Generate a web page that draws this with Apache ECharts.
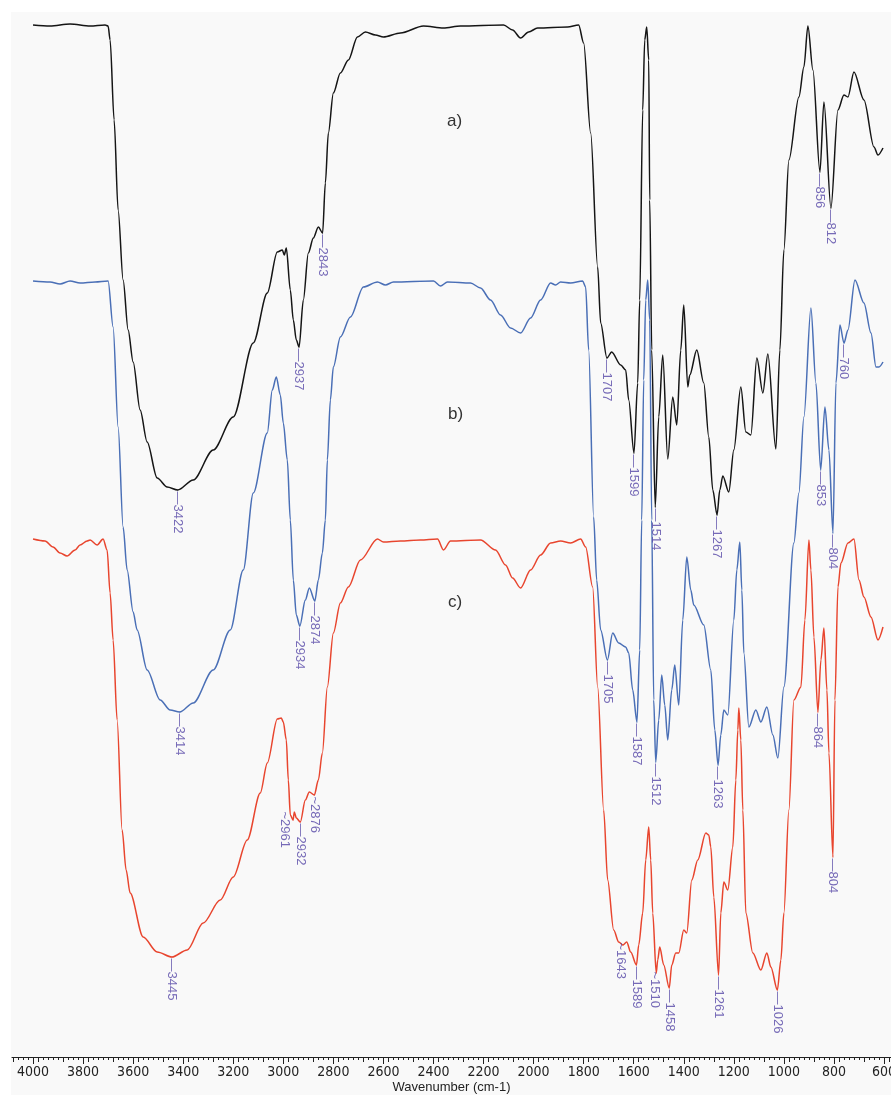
<!DOCTYPE html>
<html>
<head>
<meta charset="utf-8">
<script src="https://cdn.jsdelivr.net/npm/echarts@6/dist/echarts.min.js"></script>
<style>
html, body { margin: 0; padding: 0; background: #fff; }
#chart { width: 891px; height: 1095px; }
</style>
</head>
<body>
<div id="chart"></div>
<script>
// x tick labels (cm-1)
var tickLabels = [4000, 3800, 3600, 3400, 3200, 3000, 2800, 2600, 2400, 2200, 2000, 1800, 1600, 1400, 1200, 1000, 800, 600];

// spectra, [wavenumber, transmittance (offset, a.u.)]
var spectrumA = [
    [4000,103.2],[3932,103.1],[3852,103.3],[3772,103.1],[3712,103.2],[3700,103.1],[3692,101.7],[3676,93.7],
    [3660,84.7],[3640,77.7],[3620,72.7],[3600,69.5],[3572,64.7],[3544,61.5],[3504,57.9],[3464,57.0],
    [3422,56.7],[3360,57.7],[3280,60.7],[3200,64.0],[3120,71.4],[3064,76.4],[3024,80.5],[3004,80.7],
    [2996,80.2],[2988,80.9],[2972,76.7],[2960,73.7],[2948,71.7],[2937,71.0],[2920,75.7],[2900,80.4],
    [2880,81.9],[2860,83.0],[2843,82.4],[2832,87.4],[2820,92.4],[2800,96.4],[2772,98.4],[2740,99.7],
    [2704,102.0],[2672,102.5],[2632,102.2],[2600,102.0],[2532,102.4],[2440,103.1],[2360,102.9],[2292,103.1],
    [2120,103.2],[2084,102.7],[2052,101.9],[2020,102.5],[1984,102.9],[1864,103.0],[1820,103.2],[1800,101.4],
    [1772,92.4],[1744,79.0],[1732,73.4],[1707,69.9],[1688,70.5],[1652,69.2],[1632,68.7],[1620,65.7],
    [1599,60.4],[1584,67.4],[1576,75.7],[1564,94.7],[1556,101.7],[1548,103.0],[1540,99.7],[1536,85.7],
    [1528,70.7],[1514,55.0],[1500,64.0],[1484,70.2],[1464,59.8],[1444,66.0],[1428,63.2],[1412,70.7],
    [1400,75.2],[1384,67.0],[1376,68.2],[1348,70.7],[1320,67.4],[1300,62.0],[1284,56.7],[1267,54.2],
    [1256,56.7],[1244,58.1],[1220,56.5],[1200,60.7],[1172,67.0],[1152,62.5],[1132,62.2],[1108,69.9],
    [1084,66.4],[1064,70.3],[1032,60.8],[1016,70.7],[1000,80.7],[980,89.7],[940,96.0],[920,99.0],
    [904,103.1],[884,98.7],[856,88.5],[840,95.5],[812,84.9],[784,94.7],[760,96.2],[744,96.0],
    [720,98.5],[680,95.7],[640,91.0],[624,90.2],[604,90.9]
];
var spectrumB = [
    [4000,77.6],[3932,77.5],[3892,77.3],[3852,77.6],[3812,77.4],[3752,77.5],[3700,77.6],[3680,73.0],
    [3660,63.0],[3640,53.0],[3624,48.7],[3600,44.5],[3584,42.7],[3544,38.7],[3492,35.7],[3452,34.7],
    [3414,34.5],[3360,35.4],[3280,38.7],[3212,42.7],[3160,48.7],[3120,56.4],[3064,62.4],[3044,66.7],
    [3028,68.0],[3012,66.2],[3000,63.4],[2984,59.7],[2972,53.7],[2960,47.7],[2948,44.2],[2934,43.1],
    [2912,45.7],[2896,46.9],[2874,45.6],[2860,47.7],[2844,50.4],[2832,53.7],[2824,59.7],[2812,65.7],
    [2800,69.0],[2772,72.0],[2732,74.0],[2680,77.0],[2624,77.5],[2592,77.2],[2560,77.5],[2400,77.6],
    [2372,77.1],[2344,77.5],[2252,77.4],[2212,76.9],[2172,75.7],[2132,74.2],[2092,72.9],[2052,72.4],
    [2012,73.9],[1972,75.7],[1932,77.4],[1912,77.2],[1892,77.5],[1852,77.4],[1804,77.6],[1792,77.0],
    [1780,70.7],[1760,54.0],[1748,47.7],[1732,42.7],[1705,39.7],[1684,42.4],[1660,41.4],[1632,41.0],
    [1620,40.4],[1604,36.7],[1587,33.5],[1576,40.7],[1568,53.7],[1560,67.7],[1552,75.7],[1544,77.7],
    [1536,73.7],[1528,53.7],[1520,35.7],[1512,29.5],[1500,33.7],[1488,38.2],[1476,35.2],[1464,31.7],
    [1448,36.7],[1436,39.2],[1420,35.2],[1404,43.7],[1388,50.0],[1372,46.7],[1360,45.2],[1320,43.2],
    [1292,38.7],[1276,32.7],[1263,29.2],[1252,32.2],[1240,34.7],[1224,34.2],[1200,43.7],[1188,48.7],
    [1176,51.5],[1168,46.7],[1160,40.4],[1140,33.0],[1112,34.7],[1092,33.5],[1068,35.0],[1044,32.2],
    [1024,29.9],[1000,37.0],[960,51.4],[940,56.4],[920,64.0],[892,74.9],[872,67.4],[853,58.7],
    [836,65.0],[820,60.7],[804,52.4],[792,67.4],[776,73.2],[760,71.4],[744,72.7],[716,77.7],
    [680,75.4],[652,72.4],[632,69.0],[620,69.0],[604,69.5]
];
var spectrumC = [
    [4000,51.8],[3952,51.6],[3920,51.0],[3892,50.4],[3864,50.1],[3832,50.7],[3812,51.2],[3784,51.6],
    [3772,51.7],[3744,51.2],[3720,51.8],[3704,50.7],[3692,46.4],[3680,41.7],[3664,33.7],[3644,22.7],
    [3628,18.7],[3612,16.4],[3560,12.0],[3504,10.5],[3445,10.0],[3384,10.7],[3320,13.4],[3252,15.7],
    [3200,18.0],[3144,21.7],[3092,26.4],[3064,29.4],[3024,33.8],[3008,33.9],[3000,33.5],[2988,31.7],
    [2980,27.7],[2972,24.2],[2961,23.7],[2956,24.5],[2948,23.9],[2932,23.5],[2912,25.7],[2896,26.5],
    [2876,26.2],[2860,27.7],[2844,30.4],[2824,37.0],[2800,42.4],[2772,45.4],[2740,47.0],[2692,49.7],
    [2624,51.8],[2600,51.5],[2532,51.6],[2452,51.7],[2384,51.8],[2360,50.7],[2332,51.6],[2212,51.7],
    [2152,50.7],[2112,49.2],[2084,47.9],[2052,46.9],[2012,48.7],[1972,50.2],[1932,51.4],[1892,51.6],
    [1852,51.4],[1812,51.8],[1792,51.0],[1764,47.0],[1744,37.0],[1720,24.7],[1704,17.7],[1680,12.7],
    [1660,11.5],[1643,11.2],[1628,11.5],[1612,10.5],[1589,9.2],[1580,11.2],[1564,14.4],[1552,19.7],
    [1540,23.0],[1532,19.7],[1524,14.4],[1510,8.4],[1504,9.7],[1496,11.0],[1480,9.2],[1458,6.9],
    [1448,9.2],[1432,10.4],[1420,10.4],[1400,12.7],[1388,12.4],[1368,17.7],[1344,19.7],[1312,22.4],
    [1300,22.2],[1292,21.0],[1280,16.0],[1261,8.2],[1252,14.4],[1240,17.5],[1224,16.7],[1204,21.0],
    [1192,27.7],[1184,32.7],[1180,34.9],[1172,31.7],[1164,24.7],[1152,14.4],[1124,10.4],[1092,8.7],
    [1068,10.4],[1052,9.0],[1026,6.7],[1012,9.7],[1000,14.4],[980,24.7],[960,35.7],[932,37.0],
    [916,43.7],[900,51.7],[892,48.7],[880,42.0],[864,34.5],[852,39.7],[840,42.9],[828,36.7],
    [820,30.4],[804,20.0],[796,35.7],[784,47.0],[772,49.4],[744,51.4],[720,51.8],[700,47.7],
    [680,46.0],[652,44.0],[624,41.7],[604,43.0]
];

// annotated peaks
var peaksA = [3422, 2937, 2843, 1707, 1599, 1514, 1267, 856, 812];
var peaksB = [3414, 2934, 2874, 1705, 1587, 1512, 1263, 853, 804, 760];
var peaksC = [3445, 2961, 2932, 2876, 1643, 1589, 1510, 1458, 1261, 1026, 864, 804];

// labels drawn with a bent leader in the original
var bentLeader = [2961, 2876, 1643, 1510];
var labelShift = { 2961: [-10, 8], 1643: [-4, 2], 1510: [-3, 2] };

function peakPoints(data, peaks) {
    return data.filter(function (p) { return peaks.indexOf(p[0]) >= 0; }).map(function (p) {
        var item = { value: p };
        if (labelShift[p[0]]) item.label = { offset: labelShift[p[0]] };
        return item;
    });
}

function tickValues(step) {
    var out = [];
    for (var v = 580; v <= 4080; v += step) out.push(v);
    return out;
}

var labelStyle = {
    show: true,
    position: 'bottom',
    distance: 1,
    rotate: -90,
    align: 'left',
    verticalAlign: 'middle',
    color: '#5546a6',
    fontSize: 13,
    fontFamily: 'Liberation Sans',
    formatter: function (p) {
        return (bentLeader.indexOf(p.value[0]) >= 0 ? '~' : '\u2014') + p.value[0];
    }
};

function lineSeries(data, color) {
    return {
        type: 'line',
        data: data,
        showSymbol: false,
        smooth: 0.3,
        smoothMonotone: 'x',
        lineStyle: { color: color, width: 1.5 },
        silent: true,
        z: 3
    };
}

function labelSeries(data, peaks, color) {
    return {
        type: 'scatter',
        data: peakPoints(data, peaks),
        symbolSize: 1,
        itemStyle: { color: color },
        label: labelStyle,
        silent: true,
        z: 4
    };
}

// three identical grids: one carries the curves and major ticks, two only carry finer ticks
var gridBox = { left: 12, right: 0, top: 12, bottom: 38, containLabel: false, outerBoundsMode: 'none' };

function xAxisFor(i, extra) {
    return Object.assign({
        type: 'value', gridIndex: i, min: 572, max: 4084, inverse: true, position: 'bottom',
        splitLine: { show: false }, axisLine: { show: false }, axisLabel: { show: false }
    }, extra);
}

var chart = echarts.init(document.getElementById('chart'));
chart.setOption({
    backgroundColor: '#f9f9f9',
    animation: false,
    grid: [gridBox, gridBox, gridBox],
    graphic: [
        { type: 'rect', left: 0, top: 0, shape: { width: 891, height: 12 }, style: { fill: '#fff' }, z: -1 },
        { type: 'rect', left: 0, top: 0, shape: { width: 11, height: 1095 }, style: { fill: '#fff' }, z: -1 },
        { type: 'text', left: 447, top: 113, style: { text: 'a)', fontSize: 17, fill: '#333', fontFamily: 'Liberation Sans' } },
        { type: 'text', left: 448, top: 406, style: { text: 'b)', fontSize: 17, fill: '#333', fontFamily: 'Liberation Sans' } },
        { type: 'text', left: 448, top: 594, style: { text: 'c)', fontSize: 17, fill: '#333', fontFamily: 'Liberation Sans' } }
    ],
    xAxis: [
        xAxisFor(0, {
            name: 'Wavenumber (cm-1)',
            nameLocation: 'middle',
            nameGap: 24,
            nameMoveOverlap: false,
            nameTextStyle: { fontSize: 13, color: '#222', fontFamily: 'Liberation Sans' },
            axisLine: { show: true, lineStyle: { color: '#222', width: 1 } },
            axisTick: { show: true, length: 7, customValues: tickLabels, lineStyle: { color: '#222' } },
            axisLabel: {
                show: true, customValues: tickLabels, margin: 8, fontSize: 14, color: '#222',
                fontFamily: 'Liberation Sans Narrow, DejaVu Sans Condensed, Liberation Sans',
                formatter: function (v) { return String(v); }
            }
        }),
        xAxisFor(1, { axisTick: { show: true, length: 5, customValues: tickValues(100), lineStyle: { color: '#222' } } }),
        xAxisFor(2, { axisTick: { show: true, length: 3, customValues: tickValues(20), lineStyle: { color: '#222' } } })
    ],
    yAxis: [
        { type: 'value', gridIndex: 0, min: 0, max: 104.5, show: false },
        { type: 'value', gridIndex: 1, min: 0, max: 104.5, show: false },
        { type: 'value', gridIndex: 2, min: 0, max: 104.5, show: false }
    ],
    series: [
        lineSeries(spectrumA, '#151515'),
        lineSeries(spectrumB, '#4a6fb6'),
        lineSeries(spectrumC, '#e8452e'),
        labelSeries(spectrumA, peaksA, '#151515'),
        labelSeries(spectrumB, peaksB, '#4a6fb6'),
        labelSeries(spectrumC, peaksC, '#e8452e')
    ]
});
</script>
</body>
</html>
